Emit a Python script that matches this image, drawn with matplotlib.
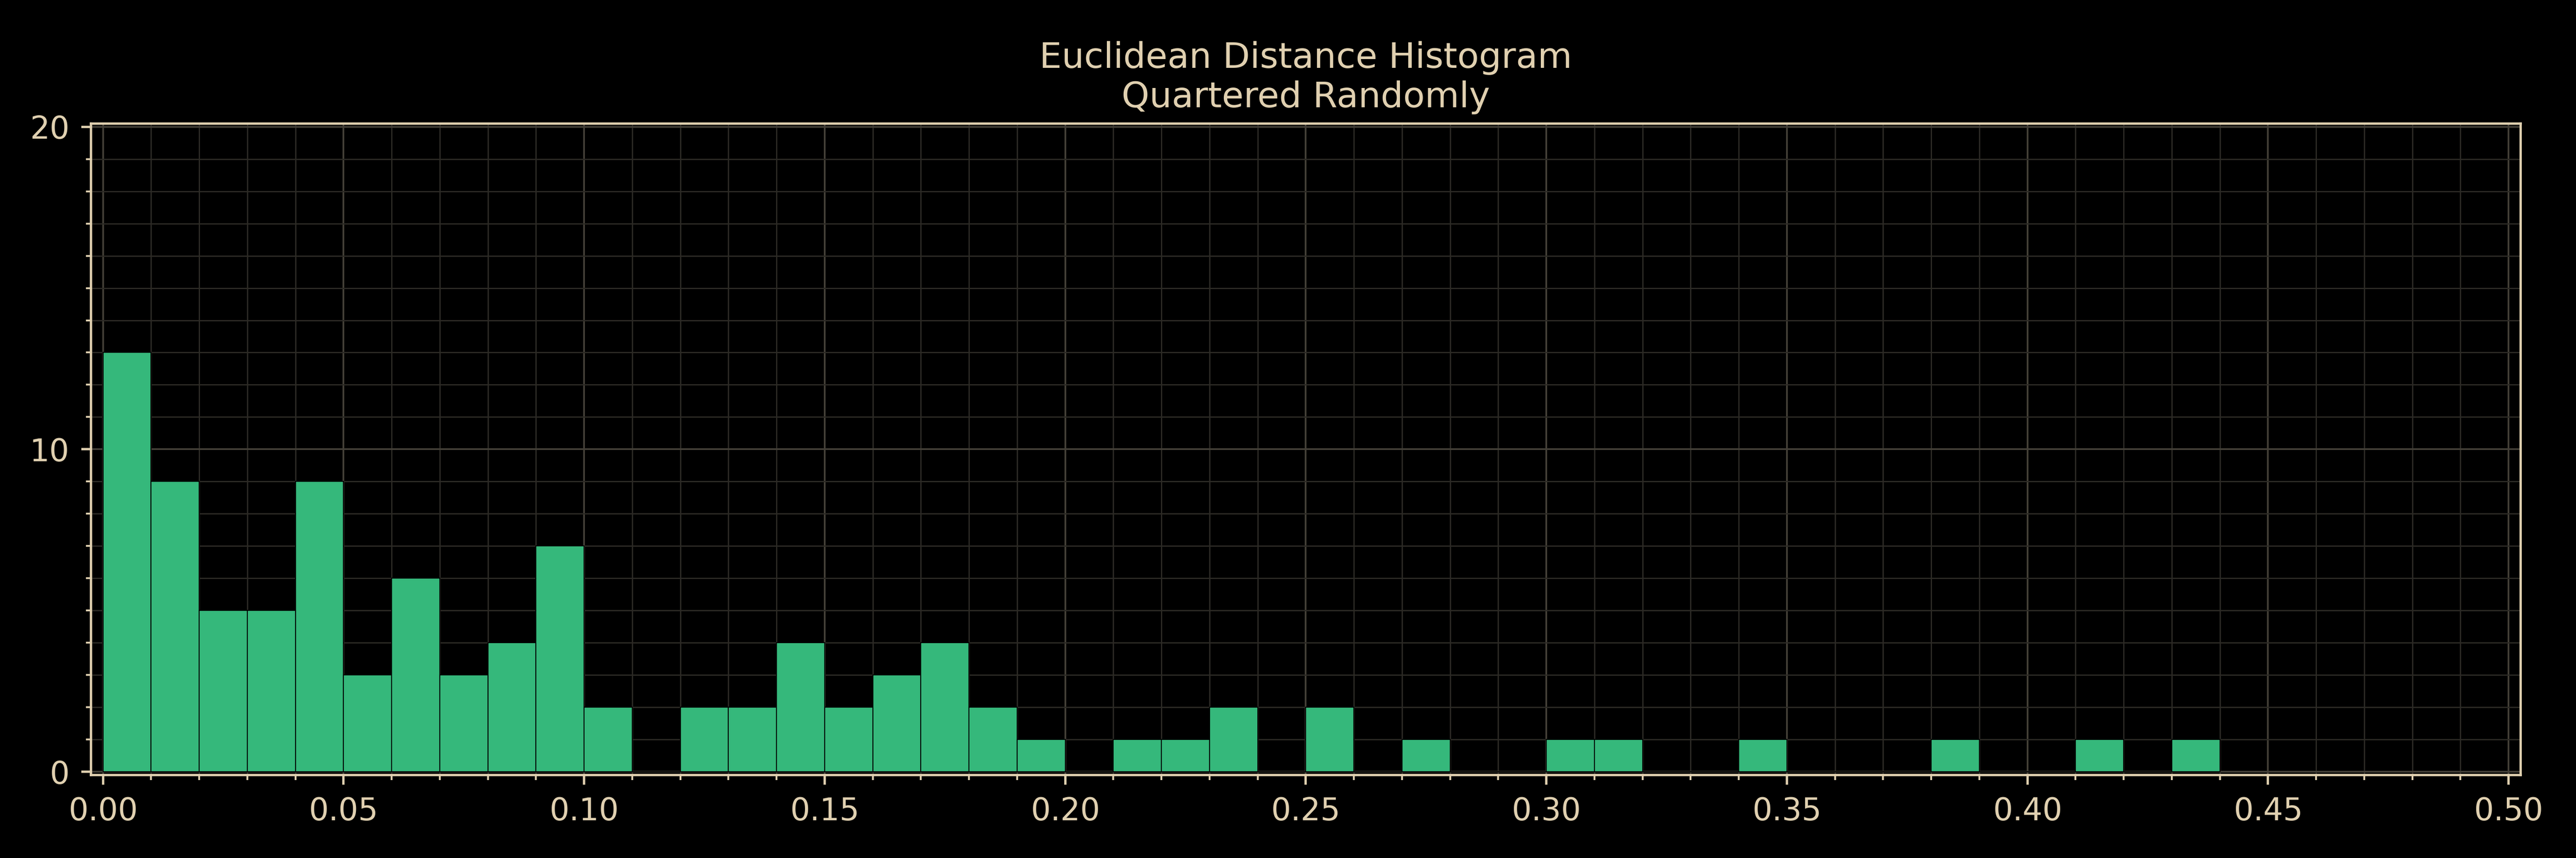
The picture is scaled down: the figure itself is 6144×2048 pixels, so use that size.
import matplotlib
matplotlib.use("Agg")
import matplotlib.pyplot as plt
from matplotlib.ticker import MultipleLocator
import numpy as np

# Data: histogram bins (left edges) and counts
bin_left = [0.00, 0.01, 0.02, 0.03, 0.04, 0.05, 0.06, 0.07, 0.08, 0.09,
            0.10, 0.11, 0.12, 0.13, 0.14, 0.15, 0.16, 0.17, 0.18, 0.19,
            0.20, 0.21, 0.22, 0.23, 0.24, 0.25, 0.26, 0.27, 0.28, 0.29,
            0.30, 0.31, 0.32, 0.33, 0.34, 0.35, 0.36, 0.37, 0.38, 0.39,
            0.40, 0.41, 0.42, 0.43]
counts = [13, 9, 5, 5, 9, 3, 6, 3, 4, 7,
          2, 0, 2, 2, 4, 2, 3, 4, 2, 1,
          0, 1, 1, 2, 0, 2, 0, 1, 0, 0,
          1, 1, 0, 0, 1, 0, 0, 0, 1, 0,
          0, 1, 0, 1]
bin_width = 0.01
x_ticks = [0.00, 0.05, 0.10, 0.15, 0.20, 0.25, 0.30, 0.35, 0.40, 0.45, 0.50]
y_ticks = [0, 10, 20]
title = "Euclidean Distance Histogram\nQuartered Randomly"

TXT = "#e0d0b0"
BAR = "#35b87b"
GRID_MAJ = "#433f37"
GRID_MIN = "#2c2a25"

plt.rcParams['font.family'] = ['DejaVu Sans']
fig = plt.figure(figsize=(15.36, 5.12), dpi=400, facecolor="black")
ax = fig.add_axes([0.0353, 0.0967, 0.9785 - 0.0353, 0.856 - 0.0967])
ax.set_facecolor("black")

ax.bar(bin_left, counts, width=bin_width, align="edge", color=BAR,
       edgecolor="black", linewidth=0.4, zorder=3)

ax.set_xlim(-0.0025, 0.5025)
ax.set_ylim(-0.1, 20.1)
ax.set_xticks(x_ticks)
ax.set_xticklabels([f"{v:.2f}" for v in x_ticks])
ax.set_yticks(y_ticks)
ax.xaxis.set_minor_locator(MultipleLocator(0.01))
ax.yaxis.set_minor_locator(MultipleLocator(1))

ax.set_axisbelow(True)
ax.grid(which="major", color=GRID_MAJ, linewidth=0.75, zorder=0)
ax.grid(which="minor", color=GRID_MIN, linewidth=0.55, zorder=0)

for s in ax.spines.values():
    s.set_color(TXT)
    s.set_linewidth(1.0)

ax.tick_params(which="major", colors=TXT, length=4.2, width=1.0,
               labelsize=13.4, pad=5, direction="out")
ax.tick_params(which="minor", colors=TXT, length=2.1, width=0.8,
               direction="out")
ax.tick_params(top=False, right=False, which="both")

ax.set_title(title, color=TXT, fontsize=15.2, pad=7, linespacing=1.2)

fig.savefig("out.png", dpi=400, facecolor="black")
